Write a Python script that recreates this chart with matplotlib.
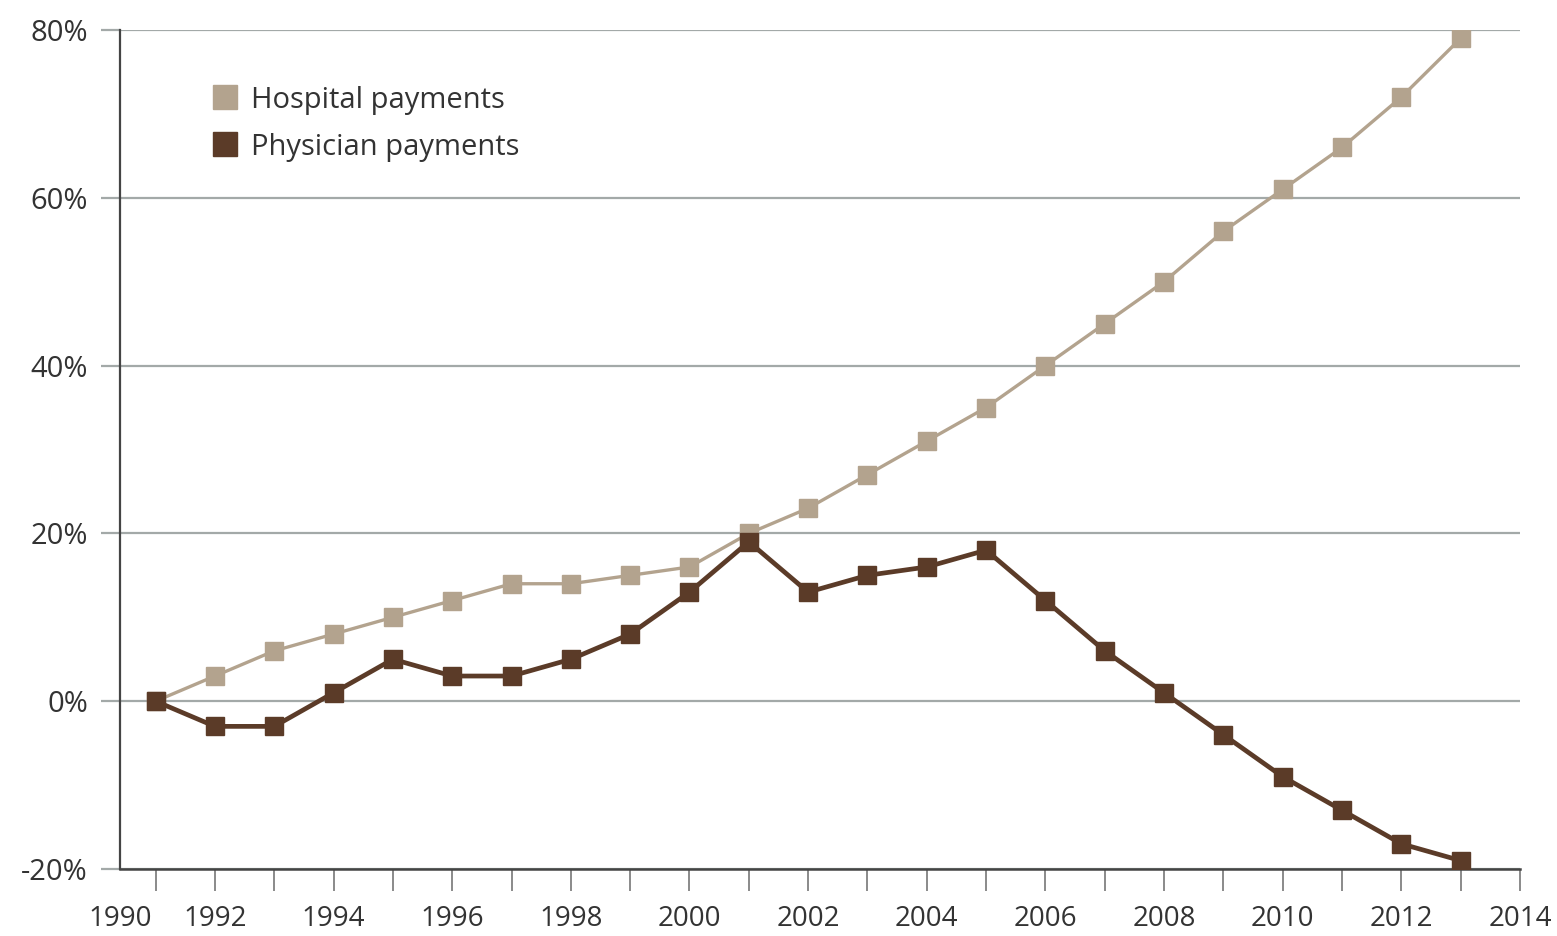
import matplotlib
matplotlib.use("Agg")
import matplotlib.pyplot as plt
import numpy as np

years = list(range(1991, 2014))
hospital = [0, 3, 6, 8, 10, 12, 14, 14, 15, 16, 20, 23, 27, 31, 35, 40, 45, 50, 56, 61, 66, 72, 79]
physician = [0, -3, -3, 1, 5, 3, 3, 5, 8, 13, 19, 13, 15, 16, 18, 12, 6, 1, -4, -9, -13, -17, -19]
tick_years = [1992, 1994, 1996, 1998, 2000, 2002, 2004, 2006, 2008, 2010, 2012, 2014]
y_ticks = [-20, 0, 20, 40, 60, 80]

hosp_color = "#b3a38e"
phys_color = "#5b3b28"
grid_color = "#a3a9a8"

plt.rcParams['font.family'] = ['Open Sans', 'DejaVu Sans']

fig = plt.figure(figsize=(15.57, 9.36), dpi=100)
ax = fig.add_axes([120/1557, 1 - 869/936, (1520-120)/1557, (869-30)/936])

ax.set_xlim(1990.53, 2014.0)
ax.set_ylim(-20, 80)

for v in y_ticks:
    ax.axhline(v, color=grid_color, lw=1.6, zorder=1)

ax.plot(years, hospital, color=hosp_color, lw=2.4, marker='s', ms=12.5,
        markerfacecolor=hosp_color, markeredgecolor=hosp_color, zorder=3, label="Hospital payments")
ax.plot(years, physician, color=phys_color, lw=3.4, marker='s', ms=12.5,
        markerfacecolor=phys_color, markeredgecolor=phys_color, zorder=4, label="Physician payments")

for s in ['top', 'right']:
    ax.spines[s].set_visible(False)
ax.spines['left'].set_color("#444444")
ax.spines['bottom'].set_color("#444444")
ax.spines['left'].set_linewidth(1.6)
ax.spines['bottom'].set_linewidth(1.8)

ax.set_yticks(y_ticks)
ax.set_yticklabels([f"{v}%" for v in y_ticks])
ax.tick_params(axis='y', length=14, width=1.6, color=grid_color, labelsize=21, pad=9, labelcolor="#333333")

ax.set_xticks(list(range(1991, 2015)), minor=True)
ax.set_xticks([1990.40] + tick_years)
ax.set_xticklabels(["1990"] + [str(y) for y in tick_years])
ax.tick_params(axis='x', which='both', length=16, width=1.2, color="#777777", labelsize=20,
               pad=10, labelcolor="#333333", direction='out')
ax.xaxis.get_major_ticks()[0].tick1line.set_visible(False)

leg = ax.legend(loc='upper left', bbox_to_anchor=(0.047, 0.965), frameon=False, fontsize=21,
                handlelength=0.9, handletextpad=0.45, labelspacing=0.62, markerscale=1.35)
for h in leg.legend_handles:
    h.set_linestyle('None')
for t in leg.get_texts():
    t.set_color("#333333")

fig.savefig("out.png", dpi=100)
